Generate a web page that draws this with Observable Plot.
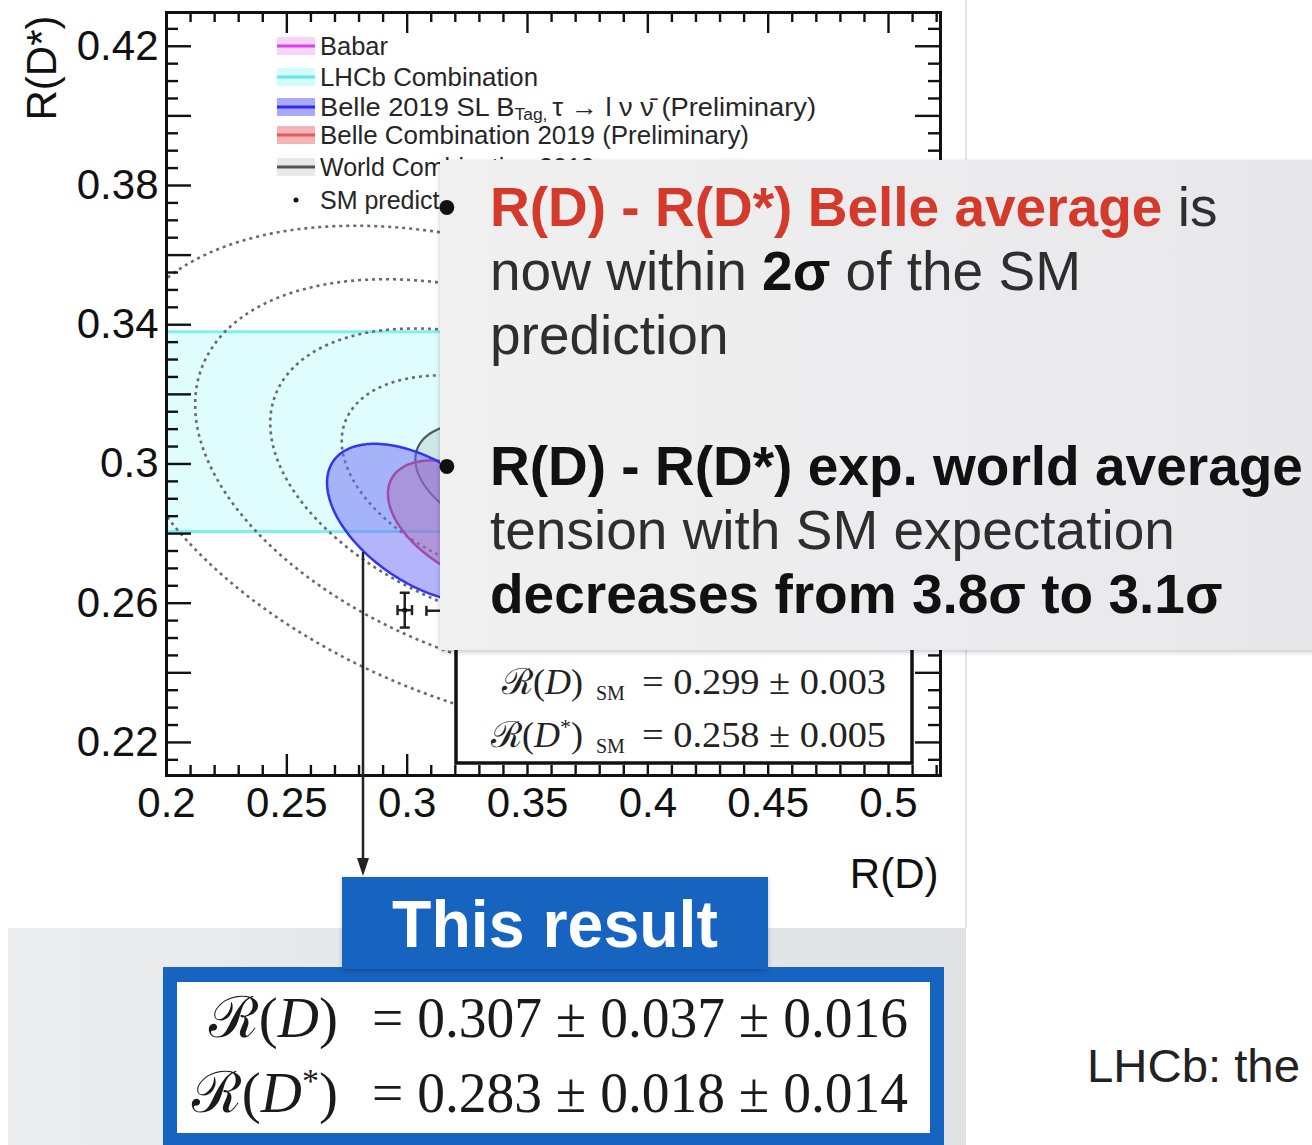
<!DOCTYPE html>
<html><head><meta charset="utf-8">
<script src="https://cdn.jsdelivr.net/npm/d3@7"></script>
<script src="https://cdn.jsdelivr.net/npm/@observablehq/plot@0.6"></script>
<style>
html,body{margin:0;padding:0;background:#fff;}
#wrap{position:relative;width:1312px;height:1145px;overflow:hidden;background:#fff;}
#wrap svg{position:absolute;left:0;top:0;}
</style></head><body><div id="wrap"></div>
<script>
// ---------------- data ----------------
const xTickValues = [0.2, 0.25, 0.3, 0.35, 0.4, 0.45, 0.5];
const xTickLabels = ["0.2", "0.25", "0.3", "0.35", "0.4", "0.45", "0.5"];
const yTickValues = [0.22, 0.26, 0.3, 0.34, 0.38, 0.42];
const yTickLabels = ["0.22", "0.26", "0.3", "0.34", "0.38", "0.42"];

// measurements drawn as contours (centre, total error, correlation, contour level in σ)
const ellipseNames = ["Babar", "World Combination 2019", "Belle Combination 2019 (Preliminary)", "Belle 2019 SL BTag"];
const ellipseRD = [0.440, 0.340, 0.326, 0.307];
const ellipseRDErr = [0.0716, 0.030, 0.034, 0.0403];
const ellipseRDs = [0.332, 0.295, 0.283, 0.283];
const ellipseRDsErr = [0.030, 0.0136, 0.018, 0.0228];
const ellipseRho = [-0.27, -0.38, -0.47, -0.51];
const ellipseLevel = [1, 1.22, 1, 1];

// world-average dotted contours (levels in units of the world-average errors)
const worldContourLevels = [2.24, 3.23, 4.27, 5.4];

// LHCb combination: R(D*) band
const lhcbBandLo = [0.2806];
const lhcbBandHi = [0.338];

// SM predictions
const smRD = [0.299, 0.3175];
const smRDErr = [0.003, 0.0095];
const smRDs = [0.258, 0.2578];
const smRDsErr = [0.005, 0.005];

// numbers quoted in the text boxes
const smQuoteRD = [0.299, 0.003];
const smQuoteRDs = [0.258, 0.005];
const resultRD = [0.307, 0.037, 0.016];
const resultRDs = [0.283, 0.018, 0.014];

const legendLabels = ["Babar", "LHCb Combination", "Belle 2019 SL B", "Belle Combination 2019 (Preliminary)", "World Combination 2019", "SM prediction"];

// ---------------- styles ----------------
const W = 1312, H = 1145;
const mL = 166, mR = 372, mT = 12, mB = 370;
const frameW = W - mL - mR, frameH = H - mT - mB;
const sans = "'Liberation Sans', Arial, Helvetica, sans-serif";
const serif = "'Liberation Serif', 'DejaVu Serif', serif";
const ellipseStyles = {
  "Babar": {fill: "#f080f0", fillOpacity: 0.3, stroke: "#e040e8", strokeWidth: 2.5},
  "World Combination 2019": {fill: "#8a9a9a", fillOpacity: 0.22, stroke: "#4d5b5b", strokeWidth: 2.2},
  "Belle Combination 2019 (Preliminary)": {fill: "#f06a6a", fillOpacity: 0.4, stroke: "#d8305a", strokeWidth: 2.5},
  "Belle 2019 SL BTag": {fill: "#6a6af5", fillOpacity: 0.5, stroke: "#3434f2", strokeWidth: 2.5}
};

function ellipsePoints(mx, sx, my, sy, rho, k, id) {
  const n = 200, s = Math.sqrt(1 - rho * rho), pts = [];
  for (let i = 0; i < n; i++) {
    const t = 2 * Math.PI * i / n;
    const u = k * Math.cos(t), v = k * (rho * Math.cos(t) + s * Math.sin(t));
    pts.push({id, x: mx + sx * u, y: my + sy * v});
  }
  return pts;
}

const ellipseMarks = ellipseNames.map((name, i) =>
  Plot.line(ellipsePoints(ellipseRD[i], ellipseRDErr[i], ellipseRDs[i], ellipseRDsErr[i], ellipseRho[i], ellipseLevel[i], name),
    {x: "x", y: "y", curve: "linear-closed", clip: true, ...ellipseStyles[name]}));

const wi = ellipseNames.indexOf("World Combination 2019");
const dotted = worldContourLevels.flatMap(k => ellipsePoints(ellipseRD[wi], ellipseRDErr[wi], ellipseRDs[wi], ellipseRDsErr[wi], ellipseRho[wi], k, k));

const lhcb = lhcbBandLo.map((lo, i) => ({lo, hi: lhcbBandHi[i]}));
const sm = smRD.map((x, i) => ({x, xe: smRDErr[i], y: smRDs[i], ye: smRDsErr[i]}));

const hcap = {draw(c) { c.moveTo(-5, 0); c.lineTo(5, 0); }};
const vcap = {draw(c) { c.moveTo(0, -5); c.lineTo(0, 5); }};

const xMajor = xTickValues;
const xMinor = d3.range(21, 53).map(d => d / 100).filter(d => Math.round(d * 100) % 5 !== 0);
const yMajor = d3.range(11, 22).map(d => d * 2 / 100);
const yMinor = d3.range(43, 86).map(d => d * 5 / 1000).filter(d => Math.round(d * 1000) % 20 !== 0);
const xLab = new Map(xTickValues.map((v, i) => [v, xTickLabels[i]]));
const yLab = new Map(yTickValues.map((v, i) => [v, yTickLabels[i]]));
const tk = {stroke: "#111", strokeWidth: 2.4};

const plot = Plot.plot({
  width: W, height: H,
  marginLeft: mL, marginRight: mR, marginTop: mT, marginBottom: mB,
  x: {domain: [0.2, 0.5216], label: null},
  y: {domain: [0.2105, 0.4297], label: null},
  style: {fontFamily: sans, color: "#111", background: "white"},
  marks: [
    Plot.rect(lhcb, {y1: "lo", y2: "hi", fill: "#e0fdfd"}),
    Plot.ruleY(lhcb.flatMap(d => [d.lo, d.hi]), {stroke: "#7ff0f0", strokeWidth: 3}),
    Plot.line(dotted, {x: "x", y: "y", z: "id", curve: "linear-closed", clip: true, stroke: "#6a6a6a", strokeWidth: 2.6, strokeDasharray: "3,4", strokeLinecap: "butt"}),
    ...ellipseMarks,
    Plot.link(sm, {x1: d => d.x - d.xe, x2: d => d.x + d.xe, y1: "y", y2: "y", stroke: "#222", strokeWidth: 2.5, clip: true}),
    Plot.link(sm, {x1: "x", x2: "x", y1: d => d.y - d.ye, y2: d => d.y + d.ye, stroke: "#222", strokeWidth: 2.5, clip: true}),
    Plot.dot(sm, {x: "x", y: d => d.y + d.ye, symbol: hcap, stroke: "#222", strokeWidth: 2.5}),
    Plot.dot(sm, {x: "x", y: d => d.y - d.ye, symbol: hcap, stroke: "#222", strokeWidth: 2.5}),
    Plot.dot(sm, {x: d => d.x - d.xe, y: "y", symbol: vcap, stroke: "#222", strokeWidth: 2.5}),
    Plot.dot(sm, {x: d => d.x + d.xe, y: "y", symbol: vcap, stroke: "#222", strokeWidth: 2.5}),
    Plot.dot(sm, {x: "x", y: "y", r: 2.5, fill: "#111"}),
    Plot.frame({stroke: "#111", strokeWidth: 3}),
    Plot.tickX(xMajor, {x: d => d, insetTop: frameH - 21, ...tk}),
    Plot.tickX(xMinor, {x: d => d, insetTop: frameH - 10, ...tk}),
    Plot.tickX(xMajor, {x: d => d, insetBottom: frameH - 21, ...tk}),
    Plot.tickX(xMinor, {x: d => d, insetBottom: frameH - 10, ...tk}),
    Plot.tickY(yMajor, {y: d => d, insetRight: frameW - 25, ...tk}),
    Plot.tickY(yMinor, {y: d => d, insetRight: frameW - 12, ...tk}),
    Plot.tickY(yMajor, {y: d => d, insetLeft: frameW - 25, ...tk}),
    Plot.tickY(yMinor, {y: d => d, insetLeft: frameW - 12, ...tk}),
    Plot.axisX(xTickValues, {anchor: "bottom", tickSize: 0, tickPadding: 12, fontSize: 42, tickFormat: d => xLab.get(d), label: null, fill: "#111"}),
    Plot.axisY(yTickValues, {anchor: "left", tickSize: 0, tickPadding: 8, fontSize: 42, tickFormat: d => yLab.get(d), label: null, fill: "#111"}),
    Plot.text(["R(D)"], {frameAnchor: "bottom-right", text: d => d, dy: 112, dx: -2, textAnchor: "end", fontSize: 42, fill: "#111"}),
    Plot.text(["R(D*)"], {frameAnchor: "top-left", text: d => d, rotate: -90, dx: -140, dy: 3, textAnchor: "end", fontSize: 42, fill: "#111"})
  ]
});
const wrap = document.getElementById("wrap");
wrap.appendChild(plot);

// ---------------- slide annotations (legend, boxes, overlay) ----------------
const svg = d3.select(wrap).append("svg").attr("width", W).attr("height", H).attr("viewBox", `0 0 ${W} ${H}`);
const defs = svg.append("defs");
const g1 = defs.append("linearGradient").attr("id", "ovl");
g1.append("stop").attr("offset", "0%").attr("stop-color", "#f0f0f1");
g1.append("stop").attr("offset", "100%").attr("stop-color", "#e8e8ea");
const g2 = defs.append("linearGradient").attr("id", "band");
g2.append("stop").attr("offset", "0%").attr("stop-color", "#ebecee");
g2.append("stop").attr("offset", "100%").attr("stop-color", "#e0e1e3");
const f = defs.append("filter").attr("id", "sh").attr("x", "-5%").attr("y", "-5%").attr("width", "110%").attr("height", "115%");
f.append("feDropShadow").attr("dx", 0).attr("dy", 2).attr("stdDeviation", 2.5).attr("flood-color", "#000").attr("flood-opacity", 0.22);
defs.append("clipPath").attr("id", "legclip").append("path").attr("d", "M0,0 H940 V160 H440 V780 H0 Z");

function txt(parent, x, y, parts, attrs) {
  const t = parent.append("text").attr("x", x).attr("y", y);
  for (const [k, v] of Object.entries(attrs || {})) t.attr(k, v);
  for (const p of parts) {
    const s = t.append("tspan").text(p.t);
    if (p.w) s.attr("font-weight", p.w);
    if (p.f) s.attr("fill", p.f);
    if (p.i) s.attr("font-style", "italic");
    if (p.s) s.attr("font-size", p.s);
    if (p.dy) s.attr("dy", p.dy);
  }
  return t;
}

// slide background pieces
svg.append("line").attr("x1", 966).attr("x2", 966).attr("y1", 0).attr("y2", 928).attr("stroke", "#e6e6e6").attr("stroke-width", 2);
svg.append("rect").attr("x", 8).attr("y", 928).attr("width", 958).attr("height", 217).attr("fill", "url(#band)");

// legend
const lg = svg.append("g").attr("font-family", sans).attr("font-size", 25).attr("fill", "#262626").attr("clip-path", "url(#legclip)");
const legY = [46, 77, 107, 135, 167, 200];
const legW = [68, 218, 496, 429, null, null];
const legCol = [["#f7d4f7", "#e040e8"], ["#d6fbfb", "#5eeaea"], ["#a9a9f8", "#2c2cf0"], ["#f4b4b4", "#e05c5c"], ["#e8e8e8", "#555"]];
legCol.forEach(([band, line], i) => {
  lg.append("rect").attr("x", 277).attr("y", legY[i] - 9).attr("width", 38).attr("height", 18).attr("fill", band);
  lg.append("line").attr("x1", 277).attr("x2", 315).attr("y1", legY[i]).attr("y2", legY[i]).attr("stroke", line).attr("stroke-width", 3);
});
lg.append("circle").attr("cx", 296).attr("cy", legY[5]).attr("r", 2.5).attr("fill", "#111");
legendLabels.forEach((lab, i) => {
  const parts = [{t: lab}];
  if (i === 2) parts.push({t: "Tag, ", s: 16, dy: 7}, {t: "τ → l ν ν\u0304 (Preliminary)", dy: -7});
  const a = {"dominant-baseline": "central"};
  if (legW[i]) { a.textLength = legW[i]; a.lengthAdjust = "spacingAndGlyphs"; }
  txt(lg, 320, legY[i], parts, a);
});

// SM box
svg.append("rect").attr("x", 456).attr("y", 540).attr("width", 456).attr("height", 223).attr("fill", "#fff").attr("stroke", "#111").attr("stroke-width", 3.5);
const sg = svg.append("g").attr("font-family", serif).attr("fill", "#222");
txt(sg, 583, 694, [{t: "ℛ"}, {t: "("}, {t: "D", i: 1}, {t: ")"}], {"text-anchor": "end", "font-size": 36});
txt(sg, 596, 700, [{t: "SM"}], {"font-size": 20});
txt(sg, 642, 694, [{t: `= ${smQuoteRD[0].toFixed(3)} ± ${smQuoteRD[1].toFixed(3)}`}], {"font-size": 36, textLength: 244, lengthAdjust: "spacingAndGlyphs"});
txt(sg, 583, 747, [{t: "ℛ"}, {t: "("}, {t: "D", i: 1}, {t: "*", s: 22, dy: -13}, {t: ")", dy: 13}], {"text-anchor": "end", "font-size": 36});
txt(sg, 596, 753, [{t: "SM"}], {"font-size": 20});
txt(sg, 642, 747, [{t: `= ${smQuoteRDs[0].toFixed(3)} ± ${smQuoteRDs[1].toFixed(3)}`}], {"font-size": 36, textLength: 244, lengthAdjust: "spacingAndGlyphs"});

// arrow from Belle ellipse to the result
svg.append("line").attr("x1", 363).attr("x2", 363).attr("y1", 552).attr("y2", 862).attr("stroke", "#222").attr("stroke-width", 2.5);
svg.append("path").attr("d", "M357,858 L369,858 L363,876 Z").attr("fill", "#222");

// overlay slide text box
svg.append("rect").attr("x", 440).attr("y", 160).attr("width", 880).attr("height", 490).attr("fill", "url(#ovl)").attr("filter", "url(#sh)");
const og = svg.append("g").attr("font-family", sans).attr("font-size", 55).attr("fill", "#2e2e2e");
const red = "#d33a2c";
txt(og, 447, 226, [{t: "•"}], {"text-anchor": "middle", "fill": "#111"});
txt(og, 490, 226, [{t: "R(D) - R(D*) Belle average", w: "bold", f: red}, {t: " is"}]);
txt(og, 490, 290, [{t: "now within "}, {t: "2σ", w: "bold", f: "#111"}, {t: " of the SM"}]);
txt(og, 490, 354, [{t: "prediction"}]);
txt(og, 447, 485, [{t: "•"}], {"text-anchor": "middle", "fill": "#111"});
txt(og, 490, 485, [{t: "R(D) - R(D*) exp. world average", w: "bold", f: "#111"}]);
txt(og, 490, 549, [{t: "tension with SM expectation"}]);
txt(og, 490, 613, [{t: "decreases from 3.8σ to 3.1σ", w: "bold", f: "#111"}]);

// "This result" boxes
const blue = "#1763c0";
svg.append("rect").attr("x", 163).attr("y", 967).attr("width", 781).attr("height", 190).attr("fill", blue);
svg.append("rect").attr("x", 177).attr("y", 982).attr("width", 753).attr("height", 151).attr("fill", "#fff");
svg.append("rect").attr("x", 342).attr("y", 877).attr("width", 426).attr("height", 92).attr("fill", blue).attr("filter", "url(#sh)");
txt(svg, 555, 947, [{t: "This result"}], {"text-anchor": "middle", "font-family": sans, "font-weight": "bold", "font-size": 66, fill: "#fff", textLength: 326, lengthAdjust: "spacingAndGlyphs"});
const rg = svg.append("g").attr("font-family", serif).attr("fill", "#1a1a1a").attr("font-size", 57);
txt(rg, 338, 1037, [{t: "ℛ"}, {t: "("}, {t: "D", i: 1}, {t: ")"}], {"text-anchor": "end"});
txt(rg, 372, 1037, [{t: `= ${resultRD[0].toFixed(3)} ± ${resultRD[1].toFixed(3)} ± ${resultRD[2].toFixed(3)}`}], {textLength: 536, lengthAdjust: "spacingAndGlyphs"});
txt(rg, 338, 1112, [{t: "ℛ"}, {t: "("}, {t: "D", i: 1}, {t: "*", s: 34, dy: -20}, {t: ")", dy: 20}], {"text-anchor": "end"});
txt(rg, 372, 1112, [{t: `= ${resultRDs[0].toFixed(3)} ± ${resultRDs[1].toFixed(3)} ± ${resultRDs[2].toFixed(3)}`}], {textLength: 536, lengthAdjust: "spacingAndGlyphs"});

txt(svg, 1087, 1082, [{t: "LHCb: the"}], {"font-family": sans, "font-size": 46, fill: "#222", textLength: 213, lengthAdjust: "spacingAndGlyphs"});
</script></body></html>
